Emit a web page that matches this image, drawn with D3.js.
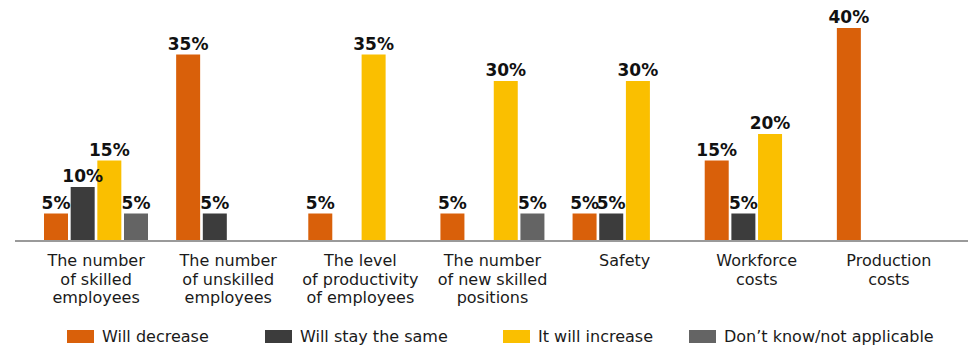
<!DOCTYPE html>
<html>
<head>
<meta charset="utf-8">
<script src="https://cdn.jsdelivr.net/npm/d3@7"></script>
<style>
  body { margin: 0; background: #fff; }
  text { font-family: "DejaVu Sans", sans-serif; fill: #1a1a1a; }
  .value { font-weight: bold; font-size: 17px; fill: #111; }
  .cat { font-size: 16px; }
  .legend text { font-size: 16px; }
</style>
</head>
<body>
<div class="panel"></div>
<script>
const width = 973;
const height = 348;

const categories = [
  ["The number", "of skilled", "employees"],
  ["The number", "of unskilled", "employees"],
  ["The level", "of productivity", "of employees"],
  ["The number", "of new skilled", "positions"],
  ["Safety"],
  ["Workforce", "costs"],
  ["Production", "costs"]
];
const seriesNames = ["Will decrease", "Will stay the same", "It will increase", "Don\u2019t know/not applicable"];
const willDecrease = [5, 35, 5, 5, 5, 15, 40];
const willStay = [10, 5, 0, 0, 5, 5, 0];
const willIncrease = [15, 0, 35, 30, 30, 20, 0];
const dontKnow = [5, 0, 0, 5, 0, 0, 0];
const colours = ["#d9600a", "#3c3c3c", "#fabf00", "#646464"];

const series = [willDecrease, willStay, willIncrease, dontKnow];
const catIds = categories.map((c, i) => i);

const svg = d3.select(".panel")
  .append("svg")
  .attr("width", width)
  .attr("height", height);

const x0 = d3.scaleBand().domain(catIds).range([30, 955]).padding(0);
const x1 = d3.scaleBand().domain(d3.range(series.length)).range([14, 118]).paddingInner(0.1).paddingOuter(0);
const y = d3.scaleLinear().domain([0, 40]).range([240, 28]);

const groups = svg.selectAll(".group")
  .data(catIds)
  .enter()
  .append("g")
  .attr("class", "group")
  .attr("transform", d => `translate(${x0(d)},0)`);

const cells = groups.selectAll(".cell")
  .data(ci => series.map((s, si) => ({si: si, v: s[ci]})).filter(d => d.v > 0))
  .enter();

cells.append("rect")
  .attr("x", d => x1(d.si))
  .attr("width", x1.bandwidth())
  .attr("y", d => y(d.v))
  .attr("height", d => y(0) - y(d.v))
  .attr("fill", d => colours[d.si]);

cells.append("text")
  .attr("class", "value")
  .attr("x", d => x1(d.si) + x1.bandwidth() / 2)
  .attr("y", d => y(d.v) - 5)
  .attr("text-anchor", "middle")
  .text(d => d.v + "%");

// baseline
svg.append("line")
  .attr("x1", 15).attr("x2", 968)
  .attr("y1", 241).attr("y2", 241)
  .attr("stroke", "#9a9a9a")
  .attr("stroke-width", 2);

// category labels
groups.append("text")
  .attr("class", "cat")
  .attr("text-anchor", "middle")
  .selectAll("tspan")
  .data(ci => categories[ci])
  .enter()
  .append("tspan")
  .attr("x", x0.bandwidth() / 2)
  .attr("y", (d, i) => 266 + i * 18.5)
  .text(d => d);

// legend
const legendX = [67, 265, 503, 689];
const legend = svg.append("g").attr("class", "legend");
const items = legend.selectAll("g")
  .data(seriesNames)
  .enter()
  .append("g")
  .attr("transform", (d, i) => `translate(${legendX[i]},330)`);
items.append("rect")
  .attr("width", 27)
  .attr("height", 13)
  .attr("fill", (d, i) => colours[i]);
items.append("text")
  .attr("x", 35)
  .attr("y", 12)
  .text(d => d);
</script>
</body>
</html>
